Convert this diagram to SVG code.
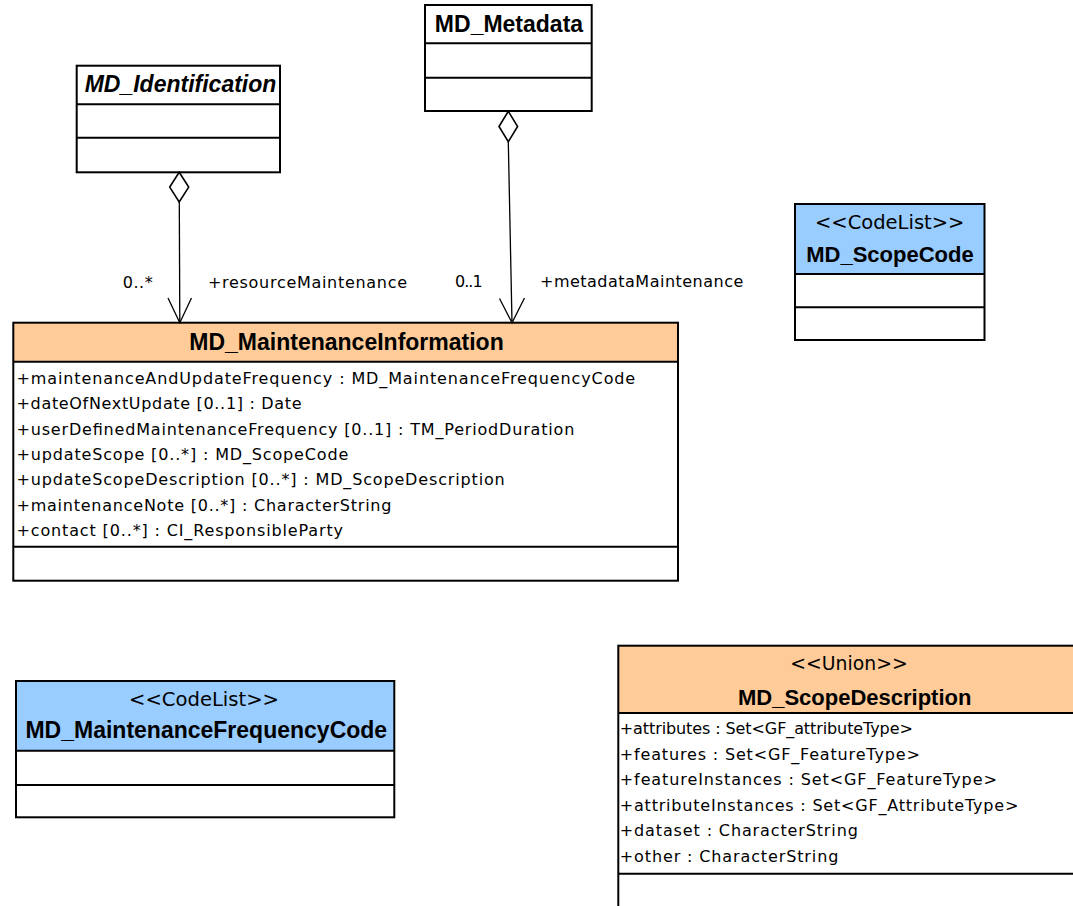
<svg xmlns="http://www.w3.org/2000/svg" width="1073" height="906" viewBox="0 0 1073 906">
<style>
.bg{fill:#fff}
.hdr-o{fill:#FFCC99}
.hdr-b{fill:#99CCFF}
.frame{fill:none;stroke:#000;stroke-width:2}
.sep{stroke:#000;stroke-width:2}
.title{font-family:"Liberation Sans",Arial,sans-serif;font-weight:bold;font-size:23px;text-anchor:middle;fill:#000}
.t22{font-size:22px}
.ital{font-style:italic}
.stereo{font-family:"DejaVu Sans","Liberation Sans",sans-serif;font-size:19px;text-anchor:middle;fill:#000}
.attr{font-family:"DejaVu Sans","Liberation Sans",sans-serif;font-size:16px;fill:#000}
.conn{fill:none;stroke:#000;stroke-width:1.3}
.diamond{fill:#fff;stroke:#000;stroke-width:1.6}
</style>
<rect x="0" y="0" width="1073" height="906" fill="#fff"/>

<g id="MD_Identification">
<rect class="bg" x="76.7" y="65.7" width="203.3" height="106.6"/>
<line class="sep" x1="76.7" y1="104.3" x2="280" y2="104.3"/>
<line class="sep" x1="76.7" y1="137.7" x2="280" y2="137.7"/>
<rect class="frame" x="76.7" y="65.7" width="203.3" height="106.6"/>
<text class="title ital" x="180.5" y="92.3">MD_Identification</text>
</g>

<g id="MD_Metadata">
<rect class="bg" x="425" y="5" width="166.7" height="106"/>
<line class="sep" x1="425" y1="43.3" x2="591.7" y2="43.3"/>
<line class="sep" x1="425" y1="77.7" x2="591.7" y2="77.7"/>
<rect class="frame" x="425" y="5" width="166.7" height="106"/>
<text class="title" x="509" y="32.3">MD_Metadata</text>
</g>

<g id="MD_ScopeCode">
<rect class="bg" x="795" y="204" width="189.5" height="136"/>
<rect class="hdr-b" x="795" y="204" width="189.5" height="70"/>
<line class="sep" x1="795" y1="274" x2="984.5" y2="274"/>
<line class="sep" x1="795" y1="307.3" x2="984.5" y2="307.3"/>
<rect class="frame" x="795" y="204" width="189.5" height="136"/>
<text class="stereo" x="889.7" y="229" textLength="149.5" lengthAdjust="spacingAndGlyphs">&lt;&lt;CodeList&gt;&gt;</text>
<text class="title t22" x="890" y="262.3">MD_ScopeCode</text>
</g>

<g id="MD_MaintenanceInformation">
<rect class="bg" x="13.3" y="322.7" width="664.7" height="258"/>
<rect class="hdr-o" x="13.3" y="322.7" width="664.7" height="39"/>
<line class="sep" x1="13.3" y1="361.7" x2="678" y2="361.7"/>
<line class="sep" x1="13.3" y1="546.7" x2="678" y2="546.7"/>
<rect class="frame" x="13.3" y="322.7" width="664.7" height="258"/>
<text class="title" x="346.5" y="350">MD_MaintenanceInformation</text>
<text class="attr" x="16.5" y="383.8" textLength="618.7" lengthAdjust="spacing">+maintenanceAndUpdateFrequency : MD_MaintenanceFrequencyCode</text>
<text class="attr" x="16.5" y="409.1" textLength="285" lengthAdjust="spacing">+dateOfNextUpdate [0..1] : Date</text>
<text class="attr" x="16.5" y="434.5" textLength="557.8" lengthAdjust="spacing">+userDefinedMaintenanceFrequency [0..1] : TM_PeriodDuration</text>
<text class="attr" x="16.5" y="459.8" textLength="331.8" lengthAdjust="spacing">+updateScope [0..*] : MD_ScopeCode</text>
<text class="attr" x="16.5" y="485.1" textLength="488.2" lengthAdjust="spacing">+updateScopeDescription [0..*] : MD_ScopeDescription</text>
<text class="attr" x="16.5" y="510.5" textLength="374.9" lengthAdjust="spacing">+maintenanceNote [0..*] : CharacterString</text>
<text class="attr" x="16.5" y="535.8" textLength="326.5" lengthAdjust="spacing">+contact [0..*] : CI_ResponsibleParty</text>
</g>

<g id="MD_MaintenanceFrequencyCode">
<rect class="bg" x="16" y="681" width="378.3" height="136.3"/>
<rect class="hdr-b" x="16" y="681" width="378.3" height="69.7"/>
<line class="sep" x1="16" y1="750.7" x2="394.3" y2="750.7"/>
<line class="sep" x1="16" y1="785" x2="394.3" y2="785"/>
<rect class="frame" x="16" y="681" width="378.3" height="136.3"/>
<text class="stereo" x="204" y="706" textLength="150" lengthAdjust="spacingAndGlyphs">&lt;&lt;CodeList&gt;&gt;</text>
<text class="title" x="206.3" y="738">MD_MaintenanceFrequencyCode</text>
</g>

<g id="MD_ScopeDescription">
<rect class="bg" x="618.3" y="645.7" width="472.7" height="280"/>
<rect class="hdr-o" x="618.3" y="645.7" width="472.7" height="67.3"/>
<line class="sep" x1="618.3" y1="713" x2="1091" y2="713"/>
<line class="sep" x1="618.3" y1="873.7" x2="1091" y2="873.7"/>
<rect class="frame" x="618.3" y="645.7" width="472.7" height="280"/>
<text class="stereo" x="849" y="670" textLength="117.4" lengthAdjust="spacingAndGlyphs">&lt;&lt;Union&gt;&gt;</text>
<text class="title t22" x="854.7" y="704.5">MD_ScopeDescription</text>
<text class="attr" x="619.8" y="734" textLength="293" lengthAdjust="spacing">+attributes : Set&lt;GF_attributeType&gt;</text>
<text class="attr" x="619.8" y="759.5" textLength="300" lengthAdjust="spacing">+features : Set&lt;GF_FeatureType&gt;</text>
<text class="attr" x="619.8" y="785" textLength="377" lengthAdjust="spacing">+featureInstances : Set&lt;GF_FeatureType&gt;</text>
<text class="attr" x="619.8" y="810.5" textLength="398.5" lengthAdjust="spacing">+attributeInstances : Set&lt;GF_AttributeType&gt;</text>
<text class="attr" x="619.8" y="836" textLength="238" lengthAdjust="spacing">+dataset : CharacterString</text>
<text class="attr" x="619.8" y="861.5" textLength="218.5" lengthAdjust="spacing">+other : CharacterString</text>
</g>

<g id="connectors">
<g id="resourceMaintenance">
<line class="conn" x1="179.3" y1="202" x2="179.8" y2="322.7"/>
<polyline class="conn" points="168,298 179.8,322.7 191.5,298"/>
<polygon class="diamond" points="179.2,172.3 188.7,187.1 179.2,202 169.7,187.1"/>
<text class="attr" x="122.7" y="288" textLength="30" lengthAdjust="spacing">0..*</text>
<text class="attr" x="208" y="288" textLength="199" lengthAdjust="spacing">+resourceMaintenance</text>
</g>
<g id="metadataMaintenance">
<line class="conn" x1="508.3" y1="141.7" x2="512" y2="322.7"/>
<polyline class="conn" points="499.5,298.5 512,322.7 524.5,298"/>
<polygon class="diamond" points="508.3,111.3 517.6,126.5 508.3,141.7 499,126.5"/>
<text class="attr" x="455" y="286.7" textLength="27.7" lengthAdjust="spacing">0..1</text>
<text class="attr" x="540" y="286.7" textLength="203.3" lengthAdjust="spacing">+metadataMaintenance</text>
</g>
</g>
</svg>
